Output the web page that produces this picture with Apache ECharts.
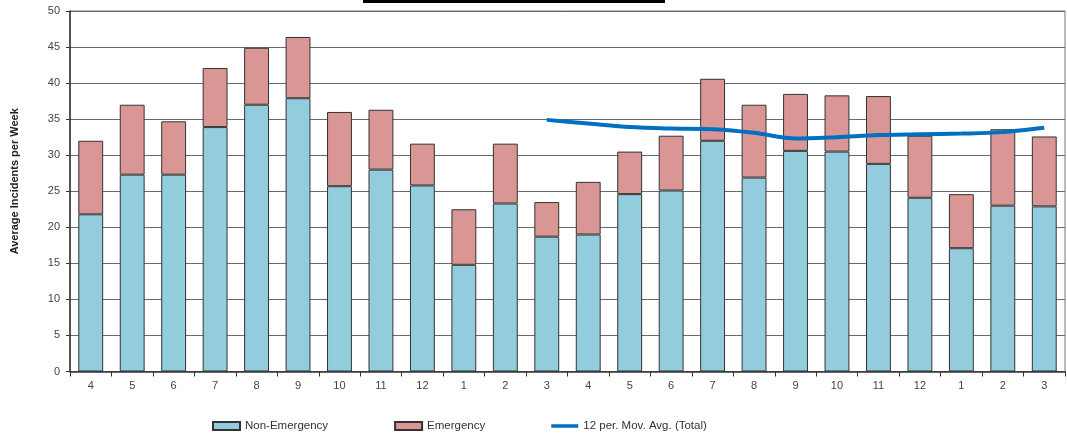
<!DOCTYPE html>
<html>
<head>
<meta charset="utf-8">
<script src="https://cdn.jsdelivr.net/npm/echarts@6/dist/echarts.min.js"></script>
<style>
html,body{margin:0;padding:0;background:#fff;}
#chart{width:1067px;height:435px;}
</style>
</head>
<body>
<div id="chart"></div>
<script>
const categories = ['4','5','6','7','8','9','10','11','12','1','2','3','4','5','6','7','8','9','10','11','12','1','2','3'];
const nonEmergency = [21.8,27.3,27.3,33.9,37.0,37.9,25.7,28.0,25.8,14.8,23.3,18.7,19.0,24.6,25.1,32.0,26.9,30.6,30.5,28.8,24.1,17.1,23.0,22.9];
const emergency = [10.2,9.7,7.4,8.2,7.9,8.5,10.3,8.3,5.8,7.7,8.3,4.8,7.3,5.9,7.6,8.6,10.1,7.9,7.8,9.4,8.6,7.5,10.6,9.7];
const movingAvg = [null,null,null,null,null,null,null,null,null,null,null,34.9,34.4,33.9,33.7,33.6,33.1,32.3,32.5,32.8,32.9,33.0,33.2,33.8];
const yTicks = {min:0, max:50, interval:5};
const seriesNames = ['Non-Emergency','Emergency','12 per. Mov. Avg. (Total)'];

const chart = echarts.init(document.getElementById('chart'));
const font = 'Liberation Sans, Arial, sans-serif';
chart.setOption({
  animation:false,
  textStyle:{fontFamily:font},
  grid:{left:70,right:2,top:11,bottom:63.5,show:true,borderColor:'#777',borderWidth:1},
  graphic:[{type:'rect',shape:{x:363,y:-10,width:302,height:13},style:{fill:'#000'}}],
  legend:{
    top:420,left:212,padding:0,itemGap:66,itemWidth:27,itemHeight:8,
    textStyle:{fontSize:11.5,color:'#333',fontFamily:font},
    data:[
      {name:seriesNames[0],icon:'rect'},
      {name:seriesNames[1],icon:'rect'},
      {name:seriesNames[2],icon:'path://M0,0 L0,0.01 M0,2 L33,2 L33,6 L0,6 Z M33,8 L33,7.99',itemStyle:{color:'#0070C0',borderWidth:0}}
    ]
  },
  xAxis:{
    type:'category',data:categories,
    axisLine:{lineStyle:{color:'#333',width:1.5}},
    axisTick:{show:true,length:5,lineStyle:{color:'#333'}},
    axisLabel:{fontSize:11,color:'#444',margin:9}
  },
  yAxis:{
    type:'value',min:yTicks.min,max:yTicks.max,interval:yTicks.interval,
    name:'Average Incidents per Week',nameLocation:'middle',nameGap:50,
    nameTextStyle:{fontSize:11,fontWeight:'bold',color:'#222',padding:[0,0,0,20]},
    axisLine:{show:true,lineStyle:{color:'#333',width:1.5}},
    axisTick:{show:true,length:4,lineStyle:{color:'#333'}},
    axisLabel:{fontSize:11,color:'#444',margin:10},
    splitLine:{lineStyle:{color:'#6a6a6a',width:1.2}}
  },
  series:[
    {name:seriesNames[0],type:'bar',stack:'t',data:nonEmergency,barCategoryGap:'40%',
      itemStyle:{color:'#93CDDD',borderColor:'#333',borderWidth:1}},
    {name:seriesNames[1],type:'bar',stack:'t',data:emergency,
      itemStyle:{color:'#D99694',borderColor:'#333',borderWidth:1}},
    {name:seriesNames[2],type:'line',data:movingAvg,smooth:0.3,symbol:'none',connectNulls:false,
      lineStyle:{color:'#0070C0',width:4},itemStyle:{color:'#0070C0'},z:5}
  ]
});
</script>
</body>
</html>
